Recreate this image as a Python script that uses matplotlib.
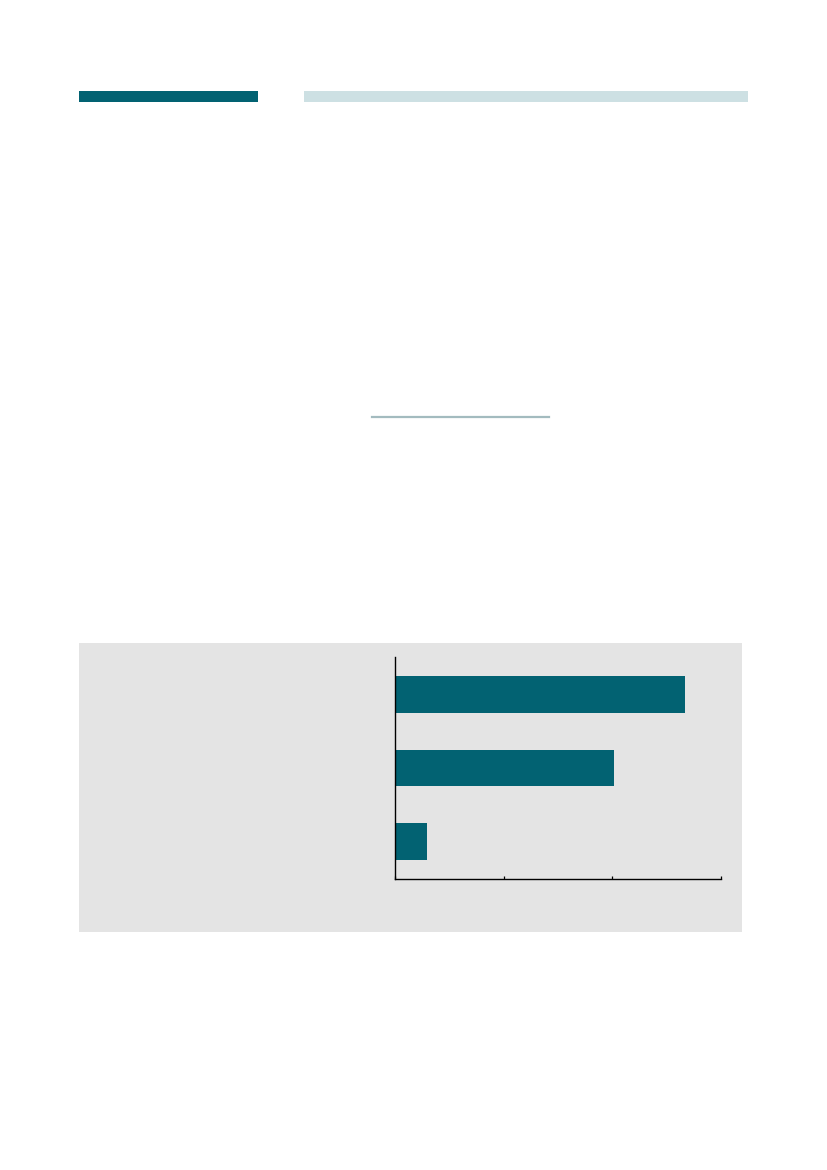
import matplotlib
matplotlib.use("Agg")
import matplotlib.pyplot as plt
from matplotlib.patches import Rectangle
from matplotlib.lines import Line2D

# Data
categories = ["A", "B", "C"]
values = [26.7, 20.2, 2.95]
xticks = [0, 10, 20, 30]

W, H = 827, 1170
fig = plt.figure(figsize=(8.27, 11.70), dpi=100)

def fx(px):
    return px / W

def fy(py):
    return 1 - py / H

TEAL = "#026272"

# Header bars
fig.add_artist(Rectangle((fx(79), fy(102)), fx(258) - fx(79), fy(91) - fy(102),
                         transform=fig.transFigure, facecolor=TEAL, edgecolor="none"))
fig.add_artist(Rectangle((fx(304), fy(102)), fx(747.5) - fx(304), fy(91) - fy(102),
                         transform=fig.transFigure, facecolor="#cde0e3", edgecolor="none"))

# Thin separator line
fig.add_artist(Line2D([fx(372), fx(549)], [fy(416.7), fy(416.7)],
                      transform=fig.transFigure, color="#a3bbbf", linewidth=1.6))

# Grey panel
fig.add_artist(Rectangle((fx(79), fy(932)), fx(742) - fx(79), fy(643) - fy(932),
                         transform=fig.transFigure, facecolor="#e4e4e4", edgecolor="none",
                         zorder=-1))

# Bar chart axes
left, right = 395.3, 720.7
top, bottom = 657.3, 878.7
ax = fig.add_axes([fx(left), fy(bottom), fx(right) - fx(left), fy(top) - fy(bottom)])
ax.set_facecolor("none")
ypos = list(range(len(categories)))
ax.barh(ypos, values, height=0.5, color=TEAL, edgecolor="none")
ax.set_xlim(0, 30)
ax.set_ylim(len(categories) - 0.5, -0.5)
ax.set_xticks(xticks)
ax.set_xticklabels([])
ax.set_yticks([])
ax.tick_params(axis="x", direction="in", length=2.5, width=0.9, color="black")
for s in ["top", "right"]:
    ax.spines[s].set_visible(False)
for s in ["left", "bottom"]:
    ax.spines[s].set_linewidth(1.0)
    ax.spines[s].set_color("black")

fig.savefig("out.png", dpi=100)
